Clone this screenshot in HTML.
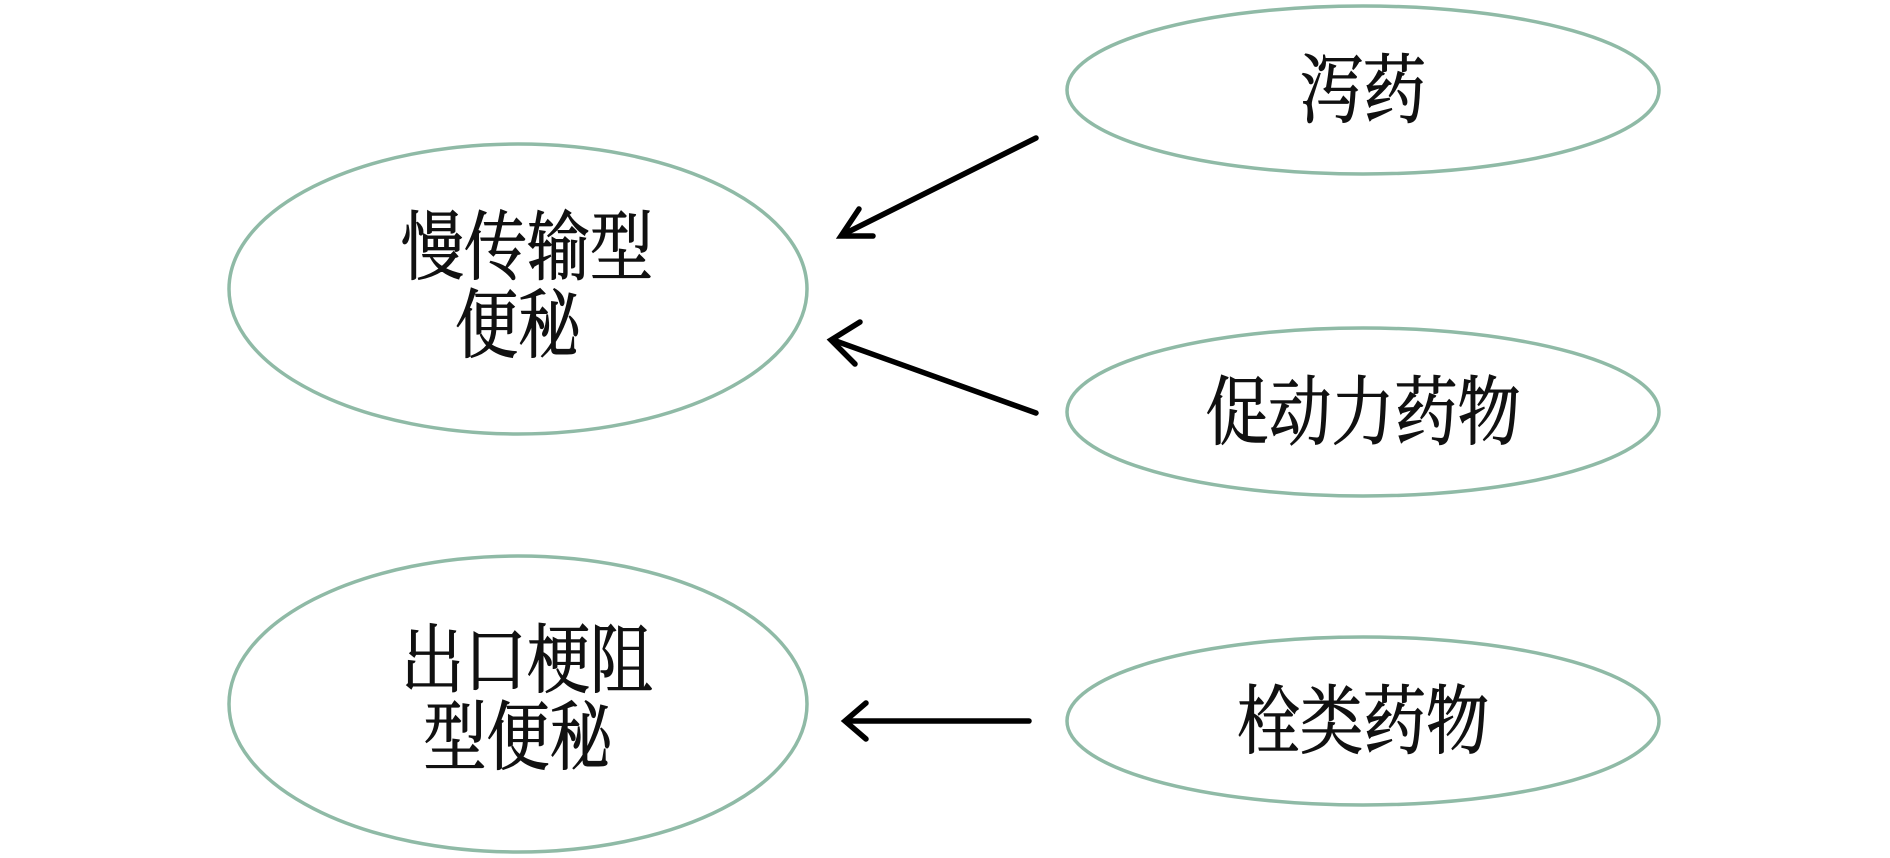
<!DOCTYPE html>
<html><head><meta charset="utf-8"><style>
html,body{margin:0;padding:0;background:#fff;}
svg{display:block;}
text{font-family:"Liberation Serif","Noto Serif CJK SC",serif;fill:#111;stroke:#111;stroke-width:0.9;}
</style></head><body>
<svg width="1890" height="858" viewBox="0 0 1890 858" xmlns="http://www.w3.org/2000/svg">
<g fill="none" stroke="#8fbaa6" stroke-width="3.5">
<ellipse cx="1363" cy="90" rx="296" ry="84"/>
<ellipse cx="518" cy="289" rx="289" ry="145"/>
<ellipse cx="1363" cy="412" rx="296" ry="84"/>
<ellipse cx="518" cy="704" rx="289" ry="148"/>
<ellipse cx="1363" cy="721" rx="296" ry="84"/>
</g>
<g stroke="#000" stroke-width="5.5" fill="none" stroke-linecap="round" stroke-linejoin="miter">
<line x1="1036" y1="138" x2="844" y2="234"/>
<polyline points="859,209 841,236 873,236"/>
<line x1="1036" y1="413" x2="833" y2="340"/>
<polyline points="860,322 831,340 855,364"/>
<line x1="1029" y1="721" x2="846" y2="721"/>
<polyline points="866,703 845,721 866,739"/>
</g>
<g font-size="63" text-anchor="middle">
<g transform="translate(1363,90) scale(1,1.2)"><text x="0" y="22">泻药</text></g>
<g transform="translate(527,247) scale(1,1.2)"><text x="0" y="22">慢传输型</text></g>
<g transform="translate(518,325) scale(1,1.2)"><text x="0" y="22">便秘</text></g>
<g transform="translate(1363,412) scale(1,1.2)"><text x="0" y="22">促动力药物</text></g>
<g transform="translate(527,660) scale(1,1.2)"><text x="0" y="22">出口梗阻</text></g>
<g transform="translate(518,737) scale(1,1.2)"><text x="0" y="22">型便秘</text></g>
<g transform="translate(1363,721) scale(1,1.2)"><text x="0" y="22">栓类药物</text></g>
</g>
</svg>
</body></html>
